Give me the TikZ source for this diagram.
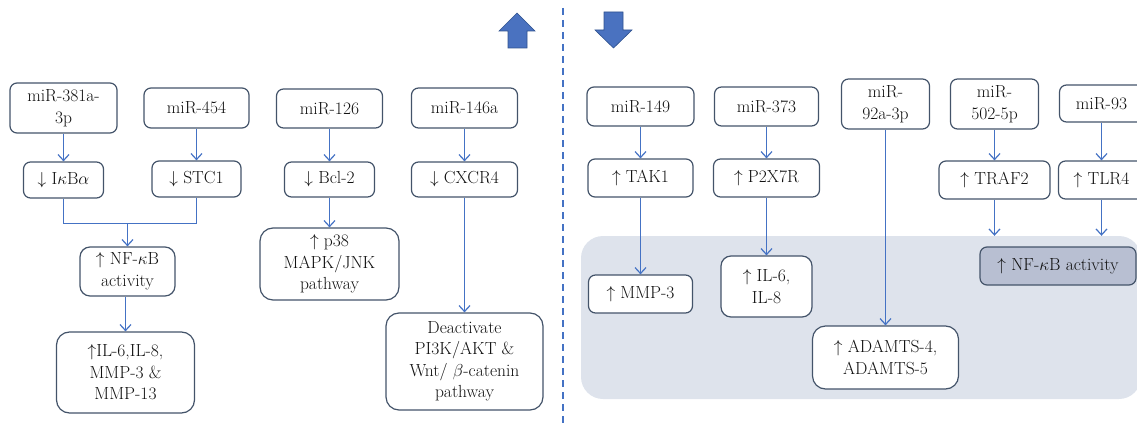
\documentclass[tikz,border=0pt]{standalone}
\usetikzlibrary{arrows.meta}
\definecolor{lineblue}{HTML}{4472C4}
\definecolor{boxedge}{HTML}{44546A}
\definecolor{regionfill}{HTML}{DEE3EC}
\definecolor{nffill}{HTML}{B8BFD2}
\definecolor{bigarrow}{HTML}{4A72C0}
\definecolor{bigedge}{HTML}{2F528F}
\definecolor{txt}{HTML}{111111}
\begin{document}
\begin{tikzpicture}[x=1pt,y=-1pt,
  box/.style={draw=boxedge, line width=1.2pt, fill=white, rounded corners=7pt, align=center, inner sep=0pt, font=\fontsize{17.5}{21.5}\selectfont, text=txt},
  bigbox/.style={box, rounded corners=13pt},
  conn/.style={draw=lineblue, line width=1.35pt, -{Straight Barb[length=6pt,width=11pt,line width=1.2pt]}},
  plainline/.style={draw=lineblue, line width=1.35pt},
  bigarr/.style={fill=bigarrow, draw=bigedge, line width=0.6pt, line join=miter},
]
\useasboundingbox (0,0) rectangle (1137,425);

% big arrows and divider
\filldraw[bigarr] (517,13) -- (535,31) -- (527,31) -- (527,48) -- (508,48) -- (508,31) -- (499,31) -- cycle;
\filldraw[bigarr] (604,12) -- (623,12) -- (623,30) -- (632,30) -- (613.5,48) -- (595,30) -- (604,30) -- cycle;
\draw[lineblue, line width=1.4pt, dash pattern=on 7pt off 5pt] (563,8) -- (563,425);

% shaded region
\node[fill=regionfill, rounded corners=22pt, inner sep=0pt, minimum width=560pt, minimum height=163pt] (reg) at (861,317.5) {};

% left side
\node[box, minimum width=107pt, minimum height=50pt] (m381) at (63.5,108) {miR-381a-\\3p};
\node[box, minimum width=105pt, minimum height=40pt] (m454) at (196.5,108) {miR-454};
\node[box, minimum width=106pt, minimum height=39pt] (m126) at (329.5,108.5) {miR-126};
\node[box, minimum width=106pt, minimum height=40pt] (m146) at (464.5,108) {miR-146a};
\node[box, minimum width=80pt, minimum height=36pt] (ikb) at (63.5,180) {$\downarrow$ I$\kappa$B$\alpha$};
\node[box, minimum width=89pt, minimum height=36pt] (stc) at (196.5,179) {$\downarrow$ STC1};
\node[box, minimum width=90pt, minimum height=35pt] (bcl) at (329.5,179.5) {$\downarrow$ Bcl-2};
\node[box, minimum width=106pt, minimum height=35pt] (cxc) at (464.5,179.5) {$\downarrow$ CXCR4};
\node[box, rounded corners=10pt, minimum width=95pt, minimum height=49pt] (nfk) at (127.5,271.5) {$\uparrow$ NF-$\kappa$B\\activity};
\node[bigbox, minimum width=138pt, minimum height=81pt] (il) at (125.5,372.5) {$\uparrow$IL-6,IL-8,\\MMP-3 \&\\MMP-13};
\node[bigbox, minimum width=139pt, minimum height=72pt] (p38) at (329.5,264) {$\uparrow$ p38\\MAPK/JNK\\pathway};
\node[bigbox, minimum width=157pt, minimum height=97pt] (deac) at (464.5,361.5) {Deactivate\\PI3K/AKT \&\\Wnt/ $\beta$-catenin\\pathway};

\coordinate (join) at (127.5,223.5);
\draw[conn] (m381) -- (ikb);
\draw[conn] (m454) -- (stc);
\draw[plainline] (ikb.south) |- (join);
\draw[plainline] (stc.south) |- (join);
\draw[conn] (join) -- (nfk.north);
\draw[conn] (nfk.south -| il.north) -- (il.north);
\draw[conn] (m126) -- (bcl);
\draw[conn] (bcl) -- (p38);
\draw[conn] (m146) -- (cxc);
\draw[conn] (cxc) -- (deac);

% right side
\node[box, minimum width=107pt, minimum height=39pt] (m149) at (640.5,106.5) {miR-149};
\node[box, minimum width=104pt, minimum height=39pt] (m373) at (766.5,106.5) {miR-373};
\node[box, minimum width=88pt, minimum height=50pt] (m92) at (885.5,104) {miR-\\92a-3p};
\node[box, minimum width=88pt, minimum height=50pt] (m502) at (994.5,104) {miR-\\502-5p};
\node[box, minimum width=84pt, minimum height=37pt] (m93) at (1101.5,103.5) {miR-93};
\node[box, minimum width=105pt, minimum height=38pt] (tak) at (640.5,178) {$\uparrow$ TAK1};
\node[box, minimum width=106pt, minimum height=38pt] (p2x) at (766.5,178) {$\uparrow$ P2X7R};
\node[box, minimum width=111pt, minimum height=38pt] (traf) at (994.5,180) {$\uparrow$ TRAF2};
\node[box, minimum width=86pt, minimum height=38pt] (tlr) at (1101.5,180) {$\uparrow$ TLR4};
\node[box, minimum width=104pt, minimum height=38pt] (mmp) at (640.5,294) {$\uparrow$ MMP-3};
\node[box, rounded corners=10pt, minimum width=91pt, minimum height=61pt] (il68) at (766.5,286.5) {$\uparrow$ IL-6,\\IL-8};
\node[bigbox, minimum width=146pt, minimum height=63pt] (adam) at (885.5,357.5) {$\uparrow$ ADAMTS-4,\\ADAMTS-5};
\node[box, fill=nffill, minimum width=156pt, minimum height=38pt] (nfr) at (1058,266) {$\uparrow$ NF-$\kappa$B activity};

\draw[conn] (m149) -- (tak);
\draw[conn] (tak) -- (mmp);
\draw[conn] (m373) -- (p2x);
\draw[conn] (p2x) -- (il68);
\draw[conn] (m92) -- (adam);
\draw[conn] (m502) -- (traf);
\draw[conn] (traf.south) -- (traf.south |- reg.north);
\draw[conn] (m93) -- (tlr);
\draw[conn] (tlr.south) -- (tlr.south |- reg.north);
\end{tikzpicture}
\end{document}
